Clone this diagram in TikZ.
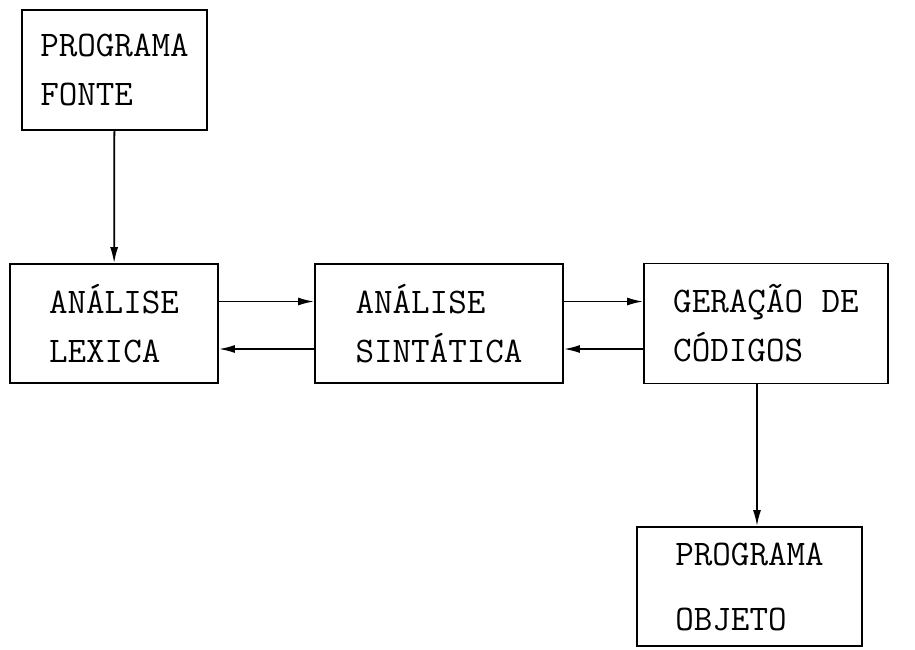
\documentclass[tikz,border=0pt]{standalone}
\usepackage{fontspec}
\usetikzlibrary{arrows.meta}

\begin{document}
\begin{tikzpicture}[box/.style={draw,line width=1pt,rectangle,align=left,font=\ttfamily\fontsize{20.5}{27.9}\selectfont},
flow/.style={line width=1pt,-{Latex[length=3.2mm,width=1.6mm]}}]

\useasboundingbox (0,0) rectangle (18.3,-12.98);

\node[box,minimum width=3.7cm,minimum height=2.4cm] (fonte) at (2.29,-1.40) {PROGRAMA\\FONTE};

\node[box,minimum width=4.16cm,minimum height=2.38cm] (lexica) at (2.28,-6.47) {ANÁLISE\\LEXICA};

\node[box,minimum width=4.96cm,minimum height=2.38cm] (sintatica) at (8.78,-6.47) {ANÁLISE\\SINTÁTICA};

\node[box,minimum width=4.88cm,minimum height=2.4cm] (geracao) at (15.32,-6.47) {GERAÇÃO DE\\CÓDIGOS};

\node[box,minimum width=4.5cm,minimum height=2.38cm] (objeto) at (14.99,-11.73) {PROGRAMA\\[0.32cm]OBJETO};



\draw[flow] (fonte) -- (lexica) ;
\draw[flow] ([yshift=4.4mm]lexica.east) -- ([yshift=4.4mm]sintatica.west) ;
\draw[flow] ([yshift=-5.1mm]sintatica.west) -- ([yshift=-5.1mm]lexica.east) ;
\draw[flow] ([yshift=4.4mm]sintatica.east) -- ([yshift=4.4mm]geracao.west) ;
\draw[flow] ([yshift=-5.1mm]geracao.west) -- ([yshift=-5.1mm]sintatica.east) ;
\draw[flow] ([xshift=-1.8mm]geracao.south) -- ([xshift=-1.8mm]geracao.south |- objeto.north) ;
\end{tikzpicture}
\end{document}
